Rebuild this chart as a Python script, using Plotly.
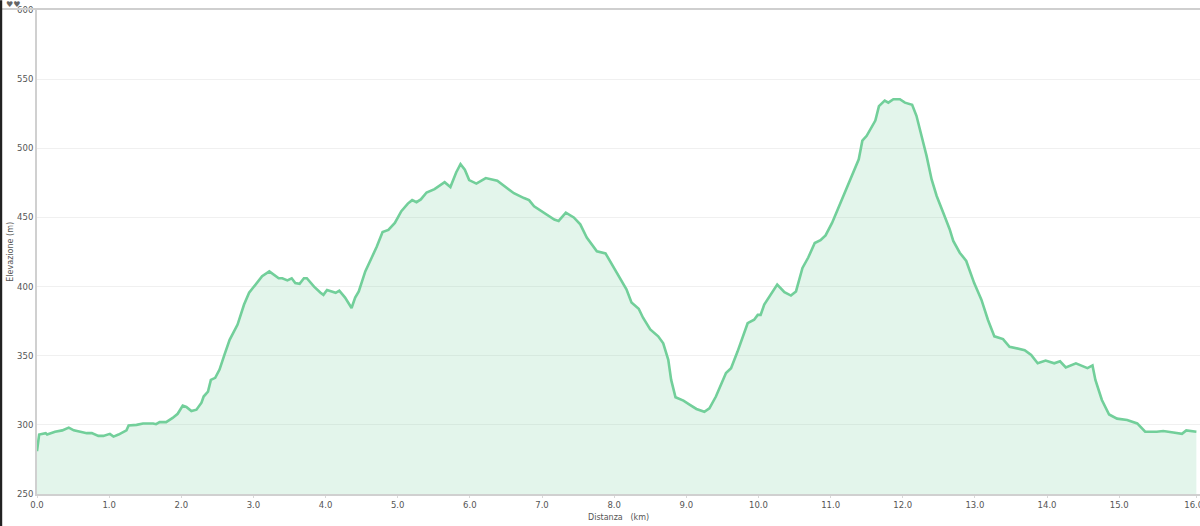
import plotly.graph_objects as go

# distance along the track (km) and elevation (m)
distanza_km = [
    0.00, 0.03, 0.12, 0.14, 0.25, 0.35, 0.44, 0.51, 0.60, 0.69, 0.76, 0.85, 0.92,
    1.01, 1.06, 1.13, 1.24, 1.27, 1.38, 1.47, 1.61, 1.65, 1.70, 1.79, 1.88, 1.95,
    2.02, 2.07, 2.14, 2.21, 2.28, 2.31, 2.37, 2.41, 2.47, 2.53, 2.60, 2.67, 2.78,
    2.87, 2.94, 3.03, 3.12, 3.22, 3.29, 3.35, 3.40, 3.47, 3.53, 3.58, 3.64, 3.70,
    3.74, 3.84, 3.93, 3.97, 4.02, 4.14, 4.19, 4.27, 4.36, 4.41, 4.46, 4.55, 4.64,
    4.71, 4.79, 4.87, 4.96, 5.05, 5.14, 5.20, 5.26, 5.32, 5.40, 5.51, 5.65, 5.73,
    5.81, 5.87, 5.93, 5.99, 6.09, 6.22, 6.38, 6.48, 6.61, 6.75, 6.82, 6.89, 7.03,
    7.17, 7.23, 7.33, 7.44, 7.53, 7.62, 7.76, 7.88, 7.94, 8.08, 8.17, 8.24, 8.34,
    8.40, 8.50, 8.61, 8.68, 8.75, 8.79, 8.85, 8.96, 9.05, 9.14, 9.25, 9.32, 9.41,
    9.55, 9.62, 9.71, 9.85, 9.94, 9.99, 10.03, 10.08, 10.20, 10.26, 10.36, 10.45,
    10.52, 10.61, 10.69, 10.78, 10.86, 10.93, 11.02, 11.14, 11.23, 11.30, 11.34,
    11.39, 11.44, 11.50, 11.62, 11.67, 11.75, 11.80, 11.87, 11.96, 12.03, 12.13,
    12.19, 12.26, 12.33, 12.40, 12.47, 12.56, 12.65, 12.70, 12.79, 12.88, 12.99,
    13.09, 13.18, 13.27, 13.39, 13.48, 13.57, 13.69, 13.78, 13.87, 13.98, 14.10,
    14.18, 14.26, 14.40, 14.47, 14.56, 14.63, 14.67, 14.76, 14.86, 14.97, 15.11,
    15.25, 15.36, 15.52, 15.61, 15.75, 15.87, 15.93, 16.07,
]

elevazione_m = [
    281, 293, 294, 293, 295, 296, 298, 296, 295, 294, 294, 292, 292,
    293.5, 291.5, 293, 296, 299.5, 300, 301, 301, 300.5, 302, 302, 305, 308,
    314, 313, 310, 311, 316, 320.5, 324, 332.5, 334, 340, 351, 361.5, 372.5,
    387, 395.5, 401.5, 407.5, 411, 408.5, 406, 406, 404.5, 406, 402.5, 402, 406,
    406, 400, 395.5, 394, 397.5, 395.5, 397, 392, 384.5, 392, 396.5, 411, 421,
    429, 439.5, 441, 446, 454.5, 460, 462.5, 461, 463, 468, 470.5, 475.5, 472,
    482.5, 488.5, 484.5, 477, 474.5, 478.5, 476.5, 472.5, 467.5, 464, 462.5, 458, 453.5,
    448.5, 447.5, 453.5, 450, 445, 435.5, 425.5, 424, 418.5, 406.5, 398, 388.5, 384,
    377.5, 369, 364, 359, 347, 332.5, 320, 317.5, 314.5, 311.5, 309.5, 312, 320.5,
    337.5, 341, 353, 373.5, 376, 379.5, 379.5, 387, 396.5, 401.5, 396, 393.5,
    396.5, 413.5, 421, 431.5, 433.5, 437, 446, 460.5, 472.5, 480, 486,
    492, 505.5, 509, 520, 530.5, 534.5, 533, 535.5, 535.5, 533, 531.5,
    523.5, 509, 494.5, 477.5, 465.5, 453.5, 441.5, 433, 424.5, 418.5, 402.5,
    390.5, 376, 364, 362, 356.5, 355.5, 354, 350.5, 344.5, 346.5, 344.5,
    346, 341.5, 344.5, 343, 341, 343, 332.5, 318, 307.5, 304.5, 303.5,
    301, 295, 295, 295.5, 294.5, 293.5, 296, 295,
]

x_tickvals = [0, 1, 2, 3, 4, 5, 6, 7, 8, 9, 10, 11, 12, 13, 14, 15, 16.07]
x_ticktext = ['0.0', '1.0', '2.0', '3.0', '4.0', '5.0', '6.0', '7.0', '8.0',
              '9.0', '10.0', '11.0', '12.0', '13.0', '14.0', '15.0', '16.07']
y_tickvals = [250, 300, 350, 400, 450, 500, 550, 600]

fig = go.Figure()

fig.add_trace(
    go.Scatter(
        x = distanza_km,
        y = elevazione_m,
        mode = 'lines',
        line = {'color': '#72cf9a', 'width': 2.6},
        fill = 'tozeroy',
        fillcolor = 'rgba(114,207,154,0.2)',
        hoverinfo = 'x+y'
    )
)

fig.update_layout(
    width = 1200,
    height = 526,
    margin = {'l': 37, 'r': 0, 't': 10, 'b': 32, 'autoexpand': False},
    paper_bgcolor = 'white',
    plot_bgcolor = 'white',
    showlegend = False,
    font = {'family': 'DejaVu Sans', 'size': 8, 'color': '#555'},
    xaxis = {
        'range': [0, 16.12],
        'automargin': False,
        'tickvals': x_tickvals,
        'ticktext': x_ticktext,
        'ticklabeloverflow': 'allow',
        'showgrid': False,
        'zeroline': False,
        'showline': True,
        'linecolor': '#d0d0d0',
        'linewidth': 2,
        'ticks': 'outside',
        'ticklen': 2,
        'tickcolor': '#d8d8d8',
        'tickfont': {'size': 8.5, 'color': '#555'},
    },
    yaxis = {
        'range': [250, 600],
        'automargin': False,
        'tickvals': y_tickvals,
        'showgrid': True,
        'gridcolor': '#f0f0f0',
        'gridwidth': 1,
        'zeroline': False,
        'showline': True,
        'linecolor': '#d0d0d0',
        'linewidth': 2,
        'ticks': '',
        'tickfont': {'size': 8.5, 'color': '#555'},
    },
)

# axis titles placed by hand so the margins stay as in the original
fig.add_annotation(text='Distanza   (km)', xref='paper', yref='paper',
                   x=0.5, y=-0.036, xanchor='center', yanchor='top',
                   showarrow=False, font={'size': 8, 'color': '#555'})
fig.add_annotation(text='Elevazione (m)', xref='paper', yref='paper',
                   x=-0.0235, y=0.5, xanchor='center', yanchor='middle',
                   textangle=-90, showarrow=False, font={'size': 8, 'color': '#555'})

# window frame: top rule across the whole width, dark strip on the left
fig.add_shape(type='line', xref='paper', yref='paper',
              x0=-0.04, x1=1, y0=1.002, y1=1.002,
              line={'color': '#cfcfcf', 'width': 2})
fig.add_shape(type='line', xref='paper', yref='paper',
              x0=-0.0312, x1=-0.0312, y0=-0.07, y1=1.02,
              line={'color': '#222', 'width': 3})

fig.add_annotation(text='♥♥', xref='paper', yref='paper',
                   x=-0.028, y=1.024, xanchor='left', yanchor='top',
                   showarrow=False, font={'size': 8, 'color': '#666'})

# the page body has an 8px margin by default; drop it so the figure fills the window
fig.write_html('out.html', config={'displayModeBar': False},
               post_script="document.body.style.margin = '0px';")
